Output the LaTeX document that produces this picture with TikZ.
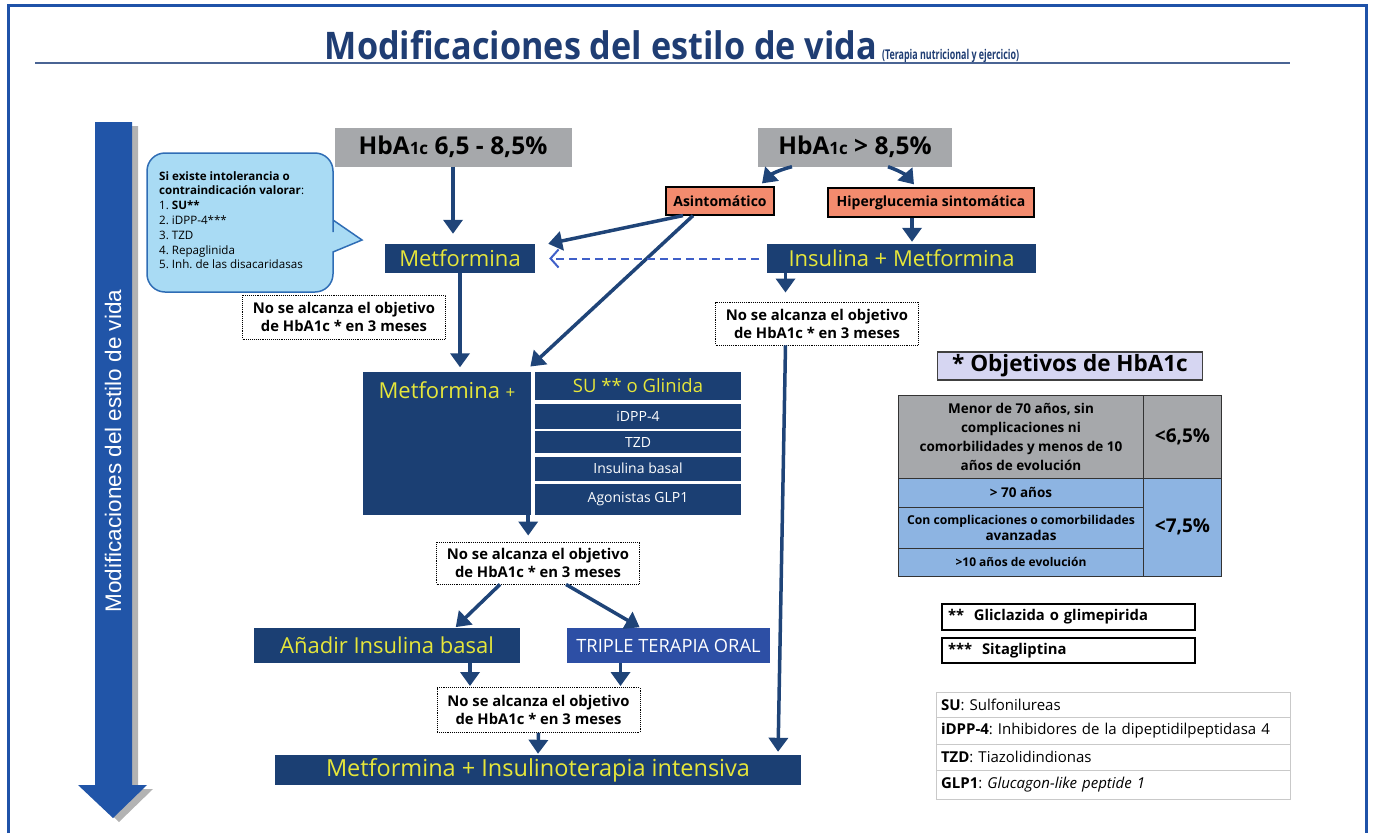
\documentclass[tikz,border=0pt]{standalone}
\usepackage{fontspec}
\usepackage{graphicx}
\setmainfont{Open Sans}
\newfontfamily\arialf{Liberation Sans}
\usetikzlibrary{arrows.meta,shadows}
\definecolor{cNavy}{HTML}{1B3F73}
\definecolor{cArr}{HTML}{1F4478}
\definecolor{cYel}{HTML}{E6E63A}
\definecolor{cGray}{HTML}{A6A8AB}
\definecolor{cSal}{HTML}{F38B6E}
\definecolor{cBub}{HTML}{A9DBF4}
\definecolor{cBubB}{HTML}{2F6DB5}
\definecolor{cTrip}{HTML}{2D4FA5}
\definecolor{cTbl}{HTML}{8DB4E2}
\definecolor{cObj}{HTML}{D6D6F2}
\definecolor{cFrame}{HTML}{1F52A8}
\definecolor{cBig}{HTML}{2155A8}
\definecolor{cDash}{HTML}{3F5FC8}
\definecolor{cTitle}{HTML}{1F3D73}
\definecolor{cRule}{HTML}{4A6494}
\definecolor{cLight}{HTML}{C9C9C9}
\tikzset{
  navyb/.style={fill=cNavy, text=cYel, inner sep=0pt, font=\fontsize{22}{24}\selectfont},
  rowb/.style={fill=cNavy, text=white, inner sep=0pt, font=\fontsize{14}{16}\selectfont, minimum width=206pt},
  grayb/.style={fill=cGray, text=black, inner sep=0pt, font=\bfseries\fontsize{24.5}{26}\selectfont},
  salb/.style={fill=cSal, draw=black, line width=1.2pt, inner sep=0pt, font=\bfseries\fontsize{14}{16}\selectfont},
  nsab/.style={draw=black, densely dotted, line width=0.9pt, fill=white, align=center, inner sep=0pt, font=\bfseries\fontsize{14.8}{18}\selectfont, minimum width=203pt},
  arr/.style={draw=cArr, line width=3.5pt, -{Triangle[width=19pt,length=14pt]}},
  cellb/.style={draw=black!80, line width=0.8pt, inner sep=0pt, align=center, font=\bfseries\fontsize{13.5}{19}\selectfont},
  noteb/.style={draw=black, line width=1.2pt, fill=white, inner sep=0pt, inner xsep=6pt, text width=241pt, align=left, font=\bfseries\fontsize{14.8}{16}\selectfont, minimum height=26pt, minimum width=253pt},
  abbr/.style={draw=cLight, line width=1pt, inner sep=0pt, inner xsep=5pt, text width=344pt, align=left, font=\fontsize{15}{17}\selectfont, minimum width=354pt},
}
\begin{document}
\frenchspacing
\begin{tikzpicture}[x=1pt,y=-1pt]
\useasboundingbox (0,0) rectangle (1374,833);
% frame
\draw[cFrame, line width=3pt] (8.5,833) -- (8.5,5.5) -- (1366,5.5) -- (1366,833);
% title
\node[anchor=base, text=cTitle, inner sep=0pt] (title) at (672,59)
  {\scalebox{0.9}[1]{\bfseries\fontsize{38}{40}\selectfont Modificaciones del estilo de vida}\hspace{5pt}\scalebox{0.66}[1]{\bfseries\fontsize{13.5}{16}\selectfont (Terapia nutricional y ejercicio)}};
\draw[cRule, line width=1.5pt] (35,63) -- (1290,63);
% big arrow
\path[fill=cBig, drop shadow={shadow xshift=6pt, shadow yshift=-4pt, opacity=0.6}]
  (95,122) -- (132,122) -- (132,785) -- (147,785) -- (113,818) -- (78,785) -- (95,785) -- cycle;
\node[rotate=90, text=white, inner sep=0pt, font=\arialf\fontsize{22.5}{22.5}\selectfont] (vtext) at (113,451) {Modificaciones del estilo de vida};
% bubble
\path[draw=cBubB, fill=cBub, line width=1.5pt] (147,200) [rounded corners=18pt] -- (147,153) -- (333,153) -- (333,214) [sharp corners] -- (333,220) -- (362,240) -- (333,252) -- (333,258) [rounded corners=18pt] -- (333,292) -- (147,292) -- (147,200) -- cycle;
\node[anchor=north west, align=left, inner sep=0pt, font=\fontsize{11.6}{14.8}\selectfont] (bubtxt) at (159,171)
  {\textbf{Si existe intolerancia o}\\\textbf{contraindicación valorar}:\\1. \textbf{SU**}\\2. iDPP-4***\\3. TZD\\4. Repaglinida\\5. Inh. de las disacaridasas};
% top boxes
\node[grayb, minimum width=237pt, minimum height=39pt] (hbA) at (453,147) {HbA{\fontsize{17}{17}\selectfont 1c} 6,5 - 8,5\%};
\node[grayb, minimum width=194pt, minimum height=39pt] (hbB) at (855,147) {HbA{\fontsize{17}{17}\selectfont 1c} > 8,5\%};
\node[salb, minimum width=108pt, minimum height=28pt] (asint) at (720,201) {Asintomático};
\node[salb, minimum width=206pt, minimum height=29pt] (hiper) at (931,202.5) {Hiperglucemia sintomática};
\node[navyb, minimum width=150pt, minimum height=29pt] (metf) at (460,258.5) {Metformina};
\node[navyb, minimum width=269pt, minimum height=29pt] (insm) at (901.5,258.5) {Insulina + Metformina};
\node[nsab, minimum height=44pt] (nsa1) at (344,317) {No se alcanza el objetivo\\de HbA1c * en 3 meses};
\node[nsab, minimum height=43pt] (nsa2) at (817,323.5) {No se alcanza el objetivo\\de HbA1c * en 3 meses};
% Metformina + block
\node[fill=cNavy, minimum width=168pt, minimum height=143pt, inner sep=0pt] (mplus) at (447,443) {};
\node[anchor=north, text=cYel, inner sep=0pt, font=\fontsize{22}{24}\selectfont] (mplust) at (447,381) {Metformina {\fontsize{17}{17}\selectfont +}};
\node[rowb, minimum height=28pt, text=cYel, font=\fontsize{18.5}{20}\selectfont] (su) at (638,386) {SU ** o Glinida};
\node[rowb, minimum height=25pt] (idpp) at (638,416) {iDPP-4};
\node[rowb, minimum height=22pt] (tzd) at (638,442) {TZD};
\node[rowb, minimum height=24pt] (insb) at (638,468.5) {Insulina basal};
\node[rowb, minimum height=31pt] (glp) at (638,499) {Agonistas GLP1};
\node[nsab, minimum height=42pt] (nsa3) at (538,563) {No se alcanza el objetivo\\de HbA1c * en 3 meses};
\node[navyb, minimum width=266pt, minimum height=35pt] (anadir) at (387,645.5) {Añadir Insulina basal};
\node[fill=cTrip, text=white, inner sep=0pt, font=\fontsize{18.3}{20}\selectfont, minimum width=203pt, minimum height=35pt] (triple) at (668.5,645.5) {TRIPLE TERAPIA ORAL};
\node[nsab, minimum height=45pt] (nsa4) at (538.5,710) {No se alcanza el objetivo\\de HbA1c * en 3 meses};
\node[navyb, minimum width=526pt, minimum height=30pt, font=\fontsize{23.5}{25}\selectfont] (mfinal) at (538,770) {Metformina + Insulinoterapia intensiva};
% objectives
\node[draw=black!75, line width=1.2pt, fill=cObj, inner sep=0pt, minimum width=265pt, minimum height=28pt, font=\bfseries\fontsize{22.5}{24}\selectfont] (obj) at (1070,366) {* Objetivos de HbA1c};
\node[cellb, fill=cGray, minimum width=245pt, minimum height=83pt] (t1) at (1021,436.5) {Menor de 70 años, sin\\complicaciones ni\\comorbilidades y menos de 10\\años de evolución};
\node[cellb, fill=cGray, minimum width=78pt, minimum height=83pt, font=\bfseries\fontsize{19}{21}\selectfont] (t1r) at (1182.5,436.5) {<6,5\%};
\node[cellb, fill=cTbl, minimum width=245pt, minimum height=29pt] (t2) at (1021,492.5) {> 70 años};
\node[cellb, fill=cTbl, minimum width=245pt, minimum height=41pt, font=\bfseries\fontsize{12.2}{16}\selectfont] (t3) at (1021,527.5) {Con complicaciones o comorbilidades\\\fontsize{13.5}{16}\selectfont avanzadas};
\node[cellb, fill=cTbl, minimum width=245pt, minimum height=28pt, font=\fontsize{12}{14}\selectfont\bfseries] (t4) at (1021,562) {>10 años de evolución};
\node[cellb, fill=cTbl, minimum width=78pt, minimum height=98pt, font=\bfseries\fontsize{19}{21}\selectfont] (t2r) at (1182.5,527) {<7,5\%};
\node[noteb] (gl) at (1068.5,617) {**~~Gliclazida o glimepirida};
\node[noteb, minimum height=25pt] (sita) at (1068.5,650.5) {***~~Sitagliptina};
\node[abbr, minimum height=25pt] (ab1) at (1113,704.5) {\textbf{SU}: Sulfonilureas};
\node[abbr, minimum height=27pt] (ab2) at (1113,730.5) {\textbf{iDPP-4}: Inhibidores de la dipeptidilpeptidasa 4};
\node[abbr, minimum height=26pt] (ab3) at (1113,757) {\textbf{TZD}: Tiazolidindionas};
\node[abbr, minimum height=29pt] (ab4) at (1113,784.5) {\textbf{GLP1}: \textit{Glucagon-like peptide 1}};
% connectors
\draw[arr, shorten >=10pt] (hbA.south) -- (hbA.south |- metf.north);
\draw[arr] ([xshift=-63pt]hbB.south) to[bend right=15] ([xshift=42pt, yshift=3pt]asint.north);
\draw[arr] ([xshift=33pt]hbB.south) to[bend left=15] ([xshift=-17pt, yshift=3pt]hiper.north);
\coordinate (h1) at ([xshift=-19pt]hiper.south);
\draw[arr, shorten >=2pt] (h1) -- (h1 |- insm.north);
\draw[arr] ([xshift=-37pt]asint.south) -- ([xshift=13pt]metf.north east);
\draw[arr, shorten >=7pt] ([xshift=-27pt]asint.south) -- ([xshift=-6pt]mplus.north east);
\draw[arr, shorten >=4pt] (metf.south) -- (metf.south |- mplus.north);
\draw[cDash, dashed, line width=2pt, dash pattern=on 8pt off 5pt, shorten >=14pt, shorten <=8pt, -{Straight Barb[length=8pt,width=18pt]}] (insm.west) -- (metf.east);
\coordinate (i1) at ([xshift=-116pt]insm.south);
\draw[arr, shorten >=9pt] (i1) -- (i1 |- nsa2.north);
\coordinate (i2) at (i1 |- nsa2.south);
\coordinate (i3) at ([xshift=240pt]mfinal.north);
\draw[arr, shorten >=3pt] (i2) -- (i3);
\coordinate (p1) at ([xshift=-3pt]mplus.south east);
\draw[arr, shorten >=6pt] (p1) -- (p1 |- nsa3.north);
\draw[arr, shorten >=1pt] ([xshift=-38pt]nsa3.south) -- ([xshift=68pt]anadir.north);
\draw[arr, shorten >=1pt] ([xshift=28pt]nsa3.south) -- ([xshift=-28pt]triple.north);
\coordinate (a1) at ([xshift=83pt]anadir.south);
\draw[arr, shorten >=1pt] (a1) -- (a1 |- nsa4.north);
\coordinate (a2) at ([xshift=-48pt]triple.south);
\draw[arr, shorten >=1pt] (a2) -- (a2 |- nsa4.north);
\draw[arr, shorten >=1pt] (nsa4.south) -- (mfinal.north);
\end{tikzpicture}
\end{document}
